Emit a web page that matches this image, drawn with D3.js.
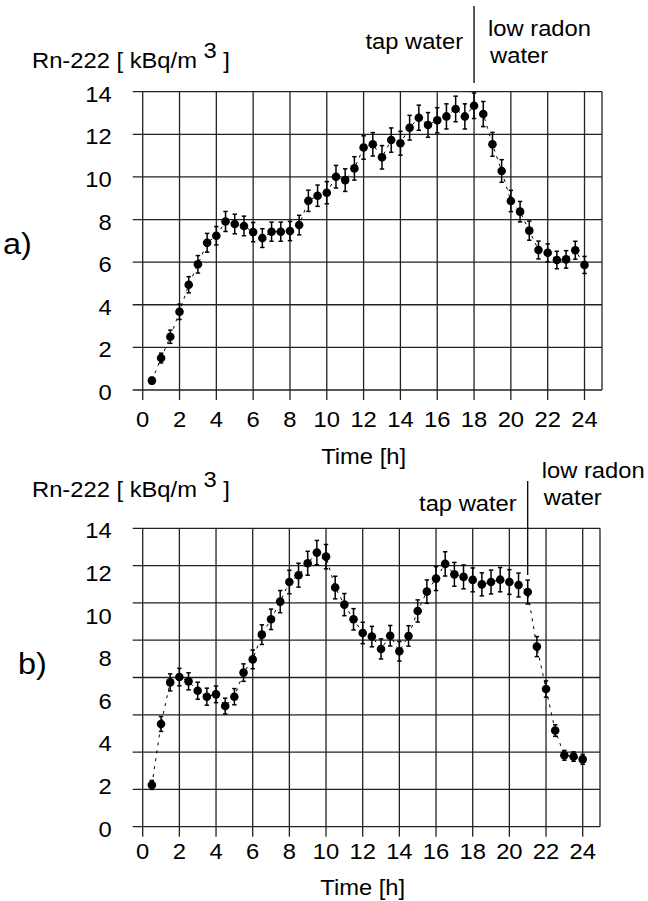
<!DOCTYPE html>
<html>
<head>
<meta charset="utf-8">
<script src="https://d3js.org/d3.v7.min.js"></script>
<style>
  body { margin: 0; background: #fff; }
  text { font-family: "Liberation Sans", Arial, sans-serif; fill: #000; }
</style>
</head>
<body>
<div id="chart"></div>
<script>

// time of each measurement [h]
var hours = [0.5, 1, 1.5, 2, 2.5, 3, 3.5, 4, 4.5, 5, 5.5, 6, 6.5, 7, 7.5, 8,
             8.5, 9, 9.5, 10, 10.5, 11, 11.5, 12, 12.5, 13, 13.5, 14, 14.5, 15, 15.5, 16,
             16.5, 17, 17.5, 18, 18.5, 19, 19.5, 20, 20.5, 21, 21.5, 22, 22.5, 23, 23.5, 24];

// panel a) Rn-222 [kBq/m3] and its error
var rnA = [0.44, 1.50, 2.50, 3.67, 4.94, 5.90, 6.91, 7.24, 7.91, 7.79, 7.70, 7.41, 7.13, 7.43, 7.43, 7.46,
           7.74, 8.88, 9.12, 9.26, 10.01, 9.85, 10.40, 11.38, 11.53, 10.92, 11.73, 11.58, 12.31, 12.78, 12.44, 12.66,
           12.84, 13.19, 12.84, 13.34, 12.95, 11.53, 10.28, 8.87, 8.37, 7.48, 6.57, 6.44, 6.10, 6.13, 6.56, 5.87];
var errA = [0.15, 0.23, 0.31, 0.36, 0.38, 0.41, 0.44, 0.43, 0.47, 0.46, 0.46, 0.45, 0.44, 0.45, 0.45, 0.45,
            0.46, 0.50, 0.50, 0.52, 0.53, 0.53, 0.55, 0.55, 0.55, 0.55, 0.57, 0.56, 0.58, 0.59, 0.58, 0.59,
            0.59, 0.60, 0.59, 0.60, 0.59, 0.56, 0.53, 0.50, 0.48, 0.45, 0.42, 0.42, 0.41, 0.41, 0.42, 0.40];

// panel b)
var rnB = [1.96, 4.82, 6.77, 7.02, 6.82, 6.38, 6.10, 6.21, 5.66, 6.10, 7.23, 7.85, 9.01, 9.73, 10.56, 11.48,
           11.80, 12.36, 12.86, 12.67, 11.22, 10.42, 9.73, 9.09, 8.92, 8.34, 8.96, 8.23, 8.95, 10.12, 11.03, 11.64,
           12.33, 11.84, 11.72, 11.58, 11.37, 11.48, 11.59, 11.48, 11.34, 11.01, 8.45, 6.46, 4.51, 3.35, 3.29, 3.16];
var errB = [0.21, 0.35, 0.40, 0.41, 0.40, 0.40, 0.40, 0.39, 0.37, 0.38, 0.41, 0.44, 0.46, 0.48, 0.52, 0.55,
            0.56, 0.56, 0.57, 0.57, 0.53, 0.52, 0.50, 0.50, 0.48, 0.47, 0.48, 0.46, 0.48, 0.52, 0.55, 0.56,
            0.57, 0.56, 0.56, 0.56, 0.54, 0.56, 0.57, 0.58, 0.56, 0.56, 0.47, 0.38, 0.27, 0.23, 0.22, 0.23];

var xTicks = [0, 2, 4, 6, 8, 10, 12, 14, 16, 18, 20, 22, 24];
var yTicks = [0, 2, 4, 6, 8, 10, 12, 14];
var switchA = 18, switchB = 21;   // hour when tap water was replaced

var W = 648, H = 901;
var svg = d3.select("#chart").append("svg")
    .attr("width", W).attr("height", H);

var sx = 1.08; // text in the original is a bit wider than normal

function label(g, x, y, str, anchor, size) {
    return g.append("text")
        .attr("transform", "translate(" + x + "," + y + ") scale(" + sx + ",1)")
        .attr("text-anchor", anchor || "start")
        .style("font-size", (size || 22) + "px")
        .text(str);
}

function panel(cfg) {
    var g = svg.append("g");
    var x = d3.scaleLinear().domain([0, 24]).range([cfg.left, cfg.x24]);
    var y = d3.scaleLinear().domain([0, 14]).range([cfg.bottom, cfg.top]);
    // horizontal grid (panel b has one more row than labels)
    var gy = d3.scaleLinear().domain([0, cfg.rows]).range([cfg.bottom, cfg.top]);
    var stroke = "#222";

    g.selectAll(".hg").data(d3.range(cfg.rows + 1)).enter().append("line")
        .attr("x1", cfg.left - 10).attr("x2", cfg.right)
        .attr("y1", function(d) { return gy(d); })
        .attr("y2", function(d) { return gy(d); })
        .attr("stroke", stroke).attr("stroke-width", 1.3);

    g.selectAll(".vg").data(xTicks).enter().append("line")
        .attr("x1", function(d) { return x(d); })
        .attr("x2", function(d) { return x(d); })
        .attr("y1", cfg.top).attr("y2", cfg.bottom + 10)
        .attr("stroke", stroke).attr("stroke-width", 1.3);

    g.append("line")
        .attr("x1", cfg.right).attr("x2", cfg.right)
        .attr("y1", cfg.top).attr("y2", cfg.bottom)
        .attr("stroke", stroke).attr("stroke-width", 1.3);

    // tick labels
    yTicks.forEach(function(t) {
        label(g, cfg.left - 31, y(t) + 10, t, "end");
    });
    xTicks.forEach(function(t) {
        label(g, x(t), cfg.bottom + cfg.tickDy, t, "middle");
    });
    label(g, x(12), cfg.bottom + cfg.titleDy, "Time [h]", "middle");

    // y axis title
    var yt = label(g, 32, cfg.ytitleY, "Rn-222 [ kBq/m ", "start");
    yt.append("tspan").attr("dy", -10).text("3");
    yt.append("tspan").attr("dy", 10).text(" ]");

    label(g, cfg.tagX, cfg.tagY, cfg.tag, "start", 30);

    // dashed trend line
    var pts = hours.map(function(h, i) { return [h, cfg.vals[i], cfg.errs[i]]; });
    g.append("path")
        .datum(pts)
        .attr("fill", "none")
        .attr("stroke", "#000")
        .attr("stroke-width", 1)
        .attr("stroke-dasharray", "3,5")
        .attr("d", d3.line().x(function(d) { return x(d[0]); }).y(function(d) { return y(d[1]); }));

    // error bars
    var eb = g.selectAll(".eb").data(pts).enter().append("g");
    eb.append("line")
        .attr("x1", function(d) { return x(d[0]); })
        .attr("x2", function(d) { return x(d[0]); })
        .attr("y1", function(d) { return y(d[1] - d[2]); })
        .attr("y2", function(d) { return y(d[1] + d[2]); })
        .attr("stroke", "#000").attr("stroke-width", 1.5);
    [-1, 1].forEach(function(s) {
        eb.append("line")
            .attr("x1", function(d) { return x(d[0]) - 2.2; })
            .attr("x2", function(d) { return x(d[0]) + 2.2; })
            .attr("y1", function(d) { return y(d[1] + s * d[2]); })
            .attr("y2", function(d) { return y(d[1] + s * d[2]); })
            .attr("stroke", "#000").attr("stroke-width", 1.5);
    });

    g.selectAll(".pt").data(pts).enter().append("circle")
        .attr("cx", function(d) { return x(d[0]); })
        .attr("cy", function(d) { return y(d[1]); })
        .attr("r", 4.3)
        .attr("fill", "#000");

    // tap water / low radon water annotation
    g.append("line")
        .attr("x1", x(cfg.sw)).attr("x2", x(cfg.sw))
        .attr("y1", cfg.swTop).attr("y2", cfg.swBottom)
        .attr("stroke", "#000").attr("stroke-width", 1.3);
    label(g, x(cfg.sw) - 11, cfg.tapY, "tap water", "end");
    label(g, x(cfg.sw) + 14, cfg.lowY, "low radon", "start");
    label(g, x(cfg.sw) + 16, cfg.lowY + 27, "water", "start");
}

panel({
    tag: "a)", tagX: 3, tagY: 254,
    left: 142.7, x24: 584.5, right: 602, top: 91.7, bottom: 390, rows: 7,
    tickDy: 37, titleDy: 74, ytitleY: 68,
    vals: rnA, errs: errA,
    sw: switchA, swTop: 6, swBottom: 83, tapY: 49, lowY: 36
});

panel({
    tag: "b)", tagX: 18, tagY: 674,
    left: 142.7, x24: 582.7, right: 600, top: 528.3, bottom: 826.7, rows: 8,
    tickDy: 32, titleDy: 68, ytitleY: 497,
    vals: rnB, errs: errB,
    sw: switchB, swTop: 481, swBottom: 575, tapY: 511, lowY: 478
});

</script>
</body>
</html>
